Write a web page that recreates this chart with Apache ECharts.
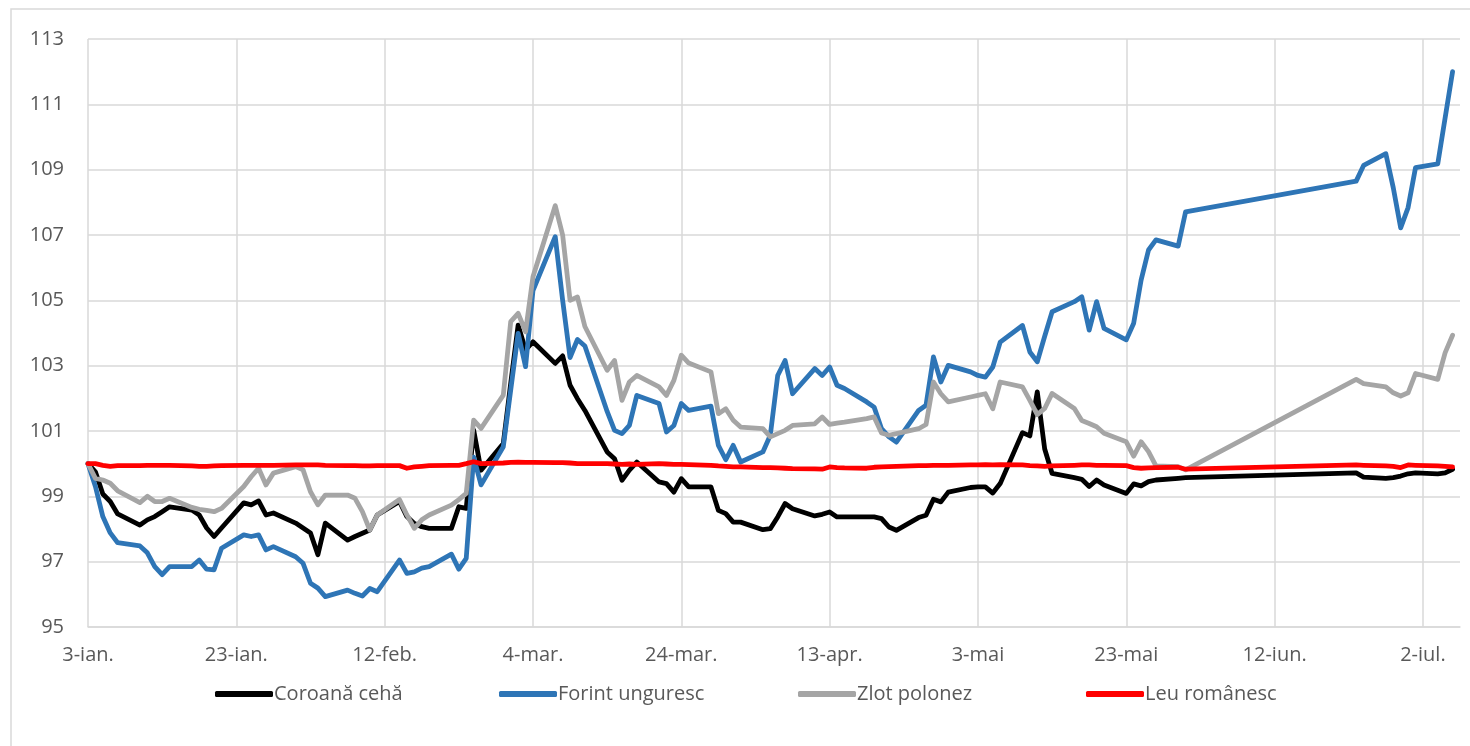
<!DOCTYPE html>
<html><head><meta charset="utf-8">
<script src="https://cdn.jsdelivr.net/npm/echarts@6/dist/echarts.min.js"></script>
<style>html,body{margin:0;padding:0;background:#fff}#c{width:1470px;height:746px}</style>
</head><body><div id="c"></div>
<script>
// Business days of 2022 (MM-DD)
const dates = [
'01-03','01-04','01-05','01-06','01-07','01-10','01-11','01-12','01-13','01-14',
'01-17','01-18','01-19','01-20','01-21','01-24','01-25','01-26','01-27','01-28',
'01-31','02-01','02-02','02-03','02-04','02-07','02-08','02-09','02-10','02-11',
'02-14','02-15','02-16','02-17','02-18','02-21','02-22','02-23','02-24','02-25',
'02-28','03-01','03-02','03-03','03-04','03-07','03-08','03-09','03-10','03-11',
'03-14','03-15','03-16','03-17','03-18','03-21','03-22','03-23','03-24','03-25',
'03-28','03-29','03-30','03-31','04-01','04-04','04-05','04-06','04-07','04-08',
'04-11','04-12','04-13','04-14','04-15','04-18','04-19','04-20','04-21','04-22',
'04-25','04-26','04-27','04-28','04-29','05-02','05-03','05-04','05-05','05-06',
'05-09','05-10','05-11','05-12','05-13','05-16','05-17','05-18','05-19','05-20',
'05-23','05-24','05-25','05-26','05-27','05-30','05-31',
'06-23','06-24','06-27','06-28','06-29','06-30','07-01','07-04','07-05','07-06'
];
const tickLabels = ['3-ian.','23-ian.','12-feb.','4-mar.','24-mar.','13-apr.','3-mai','23-mai','12-iun.','2-iul.'];
const seriesNames = ['Coroană cehă','Forint unguresc','Zlot polonez','Leu românesc'];

const coroanaCeha = [
100.0,99.75,99.07,98.84,98.46,98.12,98.28,98.38,98.53,98.68,
98.58,98.43,98.03,97.77,98.03,98.8,98.74,98.86,98.43,98.49,
98.18,98.03,97.88,97.21,98.18,97.66,97.77,97.87,97.97,98.43,
98.84,98.38,98.17,98.07,98.02,98.02,98.68,98.63,101.03,99.8,
100.62,102.46,104.24,103.48,103.73,103.07,103.3,102.4,101.99,101.63,
100.36,100.15,99.49,99.8,100.05,99.44,99.39,99.13,99.54,99.29,
99.29,98.57,98.47,98.21,98.21,97.98,98.01,98.37,98.78,98.62,
98.4,98.45,98.52,98.37,98.37,98.37,98.37,98.32,98.06,97.96,
98.35,98.42,98.91,98.83,99.13,99.27,99.29,99.29,99.1,99.39,
100.95,100.85,102.2,100.45,99.7,99.57,99.52,99.3,99.5,99.35,
99.09,99.38,99.32,99.45,99.5,99.55,99.57,
99.72,99.59,99.55,99.57,99.62,99.69,99.72,99.69,99.72,99.83
];
const forintUnguresc = [
100.0,99.3,98.38,97.88,97.58,97.48,97.27,96.85,96.6,96.85,
96.85,97.05,96.77,96.75,97.41,97.82,97.77,97.82,97.36,97.46,
97.15,96.95,96.34,96.19,95.93,96.13,96.03,95.95,96.18,96.08,
97.05,96.64,96.69,96.8,96.85,97.23,96.77,97.1,100.2,99.35,
100.52,102.26,103.99,102.97,105.3,106.95,105.0,103.25,103.8,103.6,
101.6,101.02,100.92,101.17,102.09,101.84,100.97,101.17,101.84,101.63,
101.76,100.56,100.12,100.56,100.05,100.36,100.87,102.7,103.16,102.14,
102.91,102.7,102.96,102.4,102.3,101.89,101.73,101.07,100.82,100.66,
101.63,101.79,103.27,102.5,103.01,102.81,102.7,102.65,102.96,103.72,
104.23,103.42,103.12,103.9,104.65,104.96,105.11,104.09,104.96,104.14,
103.79,104.3,105.62,106.54,106.85,106.66,107.71,
108.65,109.13,109.49,108.45,107.22,107.84,109.06,109.18,110.59,112.0
];
const zlotPolonez = [
100.0,99.55,99.5,99.4,99.17,98.81,99.0,98.84,98.84,98.94,
98.66,98.6,98.57,98.53,98.63,99.3,99.6,99.86,99.35,99.71,
99.91,99.81,99.14,98.74,99.04,99.04,98.94,98.53,97.97,98.43,
98.9,98.43,98.02,98.28,98.43,98.73,98.9,99.09,101.33,101.08,
102.1,104.35,104.6,104.04,105.72,107.9,107.0,105.0,105.1,104.2,
102.86,103.16,101.94,102.5,102.7,102.35,102.09,102.55,103.32,103.08,
102.81,101.53,101.68,101.33,101.12,101.07,100.82,100.92,101.02,101.17,
101.22,101.43,101.2,101.24,101.27,101.38,101.43,100.94,100.87,100.92,
101.07,101.2,102.5,102.14,101.89,102.04,102.09,102.14,101.68,102.5,
102.35,101.94,101.5,101.69,102.15,101.69,101.32,101.23,101.13,100.93,
100.67,100.23,100.67,100.37,99.93,99.91,99.81,
102.58,102.45,102.35,102.17,102.07,102.17,102.76,102.58,103.4,103.93
];
const leuRomanesc = [
100.0,100.0,99.95,99.92,99.94,99.94,99.95,99.95,99.95,99.95,
99.93,99.92,99.92,99.93,99.94,99.95,99.95,99.95,99.95,99.95,
99.96,99.96,99.96,99.96,99.95,99.94,99.94,99.93,99.93,99.94,
99.94,99.86,99.9,99.92,99.94,99.95,99.95,100.0,100.06,100.0,
100.02,100.04,100.05,100.04,100.04,100.03,100.03,100.02,100.0,100.0,
100.0,99.99,99.98,99.99,99.98,100.0,99.99,99.98,99.98,99.97,
99.95,99.93,99.92,99.9,99.9,99.88,99.88,99.87,99.86,99.85,
99.84,99.83,99.9,99.88,99.87,99.86,99.89,99.9,99.91,99.92,
99.94,99.94,99.95,99.95,99.95,99.96,99.96,99.97,99.96,99.97,
99.96,99.94,99.93,99.92,99.93,99.95,99.96,99.96,99.95,99.95,
99.94,99.88,99.86,99.87,99.88,99.89,99.83,
99.96,99.95,99.93,99.92,99.88,99.96,99.95,99.93,99.92,99.9
];

const base = Date.UTC(2022, 0, 3);
const dayOf = s => { const p = s.split('-').map(Number); return (Date.UTC(2022, p[0] - 1, p[1]) - base) / 86400000; };
const xs = dates.map(dayOf);
const pairs = arr => arr.map((v, i) => [xs[i], v]);

const FONT = 'Open Sans';
const TXT = '#595959';
const GRID = '#d9d9d9';
const colors = ['#000000', '#2e75b6', '#a5a5a5', '#ff0000'];
const values = [coroanaCeha, forintUnguresc, zlotPolonez, leuRomanesc];
const legendLeft = [210, 494, 793, 1081];

const chart = echarts.init(document.getElementById('c'), null, { renderer: 'canvas' });
chart.setOption({
  animation: false,
  backgroundColor: '#ffffff',
  graphic: [{
    type: 'rect', silent: true, z: -10,
    shape: { x: 11, y: 9, width: 1480, height: 760 },
    style: { fill: 'none', stroke: GRID, lineWidth: 1.5 }
  }],
  grid: { left: 88, right: 10, top: 39, bottom: 119, containLabel: false, outerBoundsMode: 'none' },
  legend: seriesNames.map((n, i) => ({
    data: [n], left: legendLeft[i], top: 679, icon: 'roundRect',
    itemWidth: 58, itemHeight: 6,
    textStyle: { color: TXT, fontSize: 20, fontFamily: FONT, padding: [0, 0, 0, -4] }
  })),
  xAxis: {
    type: 'value', min: 0, max: 185, interval: 20,
    axisLine: { show: true, lineStyle: { color: GRID, width: 1.5 } },
    axisTick: { show: false },
    splitLine: { show: true, showMaxLine: false, lineStyle: { color: GRID, width: 1.5 } },
    axisLabel: {
      color: TXT, fontSize: 20, fontFamily: FONT, margin: 18, showMaxLabel: false,
      formatter: v => (v % 20 === 0 && tickLabels[v / 20] !== undefined) ? tickLabels[v / 20] : ''
    }
  },
  yAxis: {
    type: 'value', min: 95, max: 113, interval: 2,
    axisLine: { show: false }, axisTick: { show: false },
    splitLine: { show: true, lineStyle: { color: GRID, width: 1.5 } },
    axisLabel: { color: TXT, fontSize: 20, fontFamily: FONT, margin: 24 }
  },
  series: seriesNames.map((n, i) => ({
    name: n, type: 'line', data: pairs(values[i]),
    showSymbol: false, symbol: 'none',
    itemStyle: { color: colors[i] },
    lineStyle: { color: colors[i], width: 4.8, cap: 'round', join: 'round' },
    emphasis: { disabled: true }
  }))
});
</script></body></html>
